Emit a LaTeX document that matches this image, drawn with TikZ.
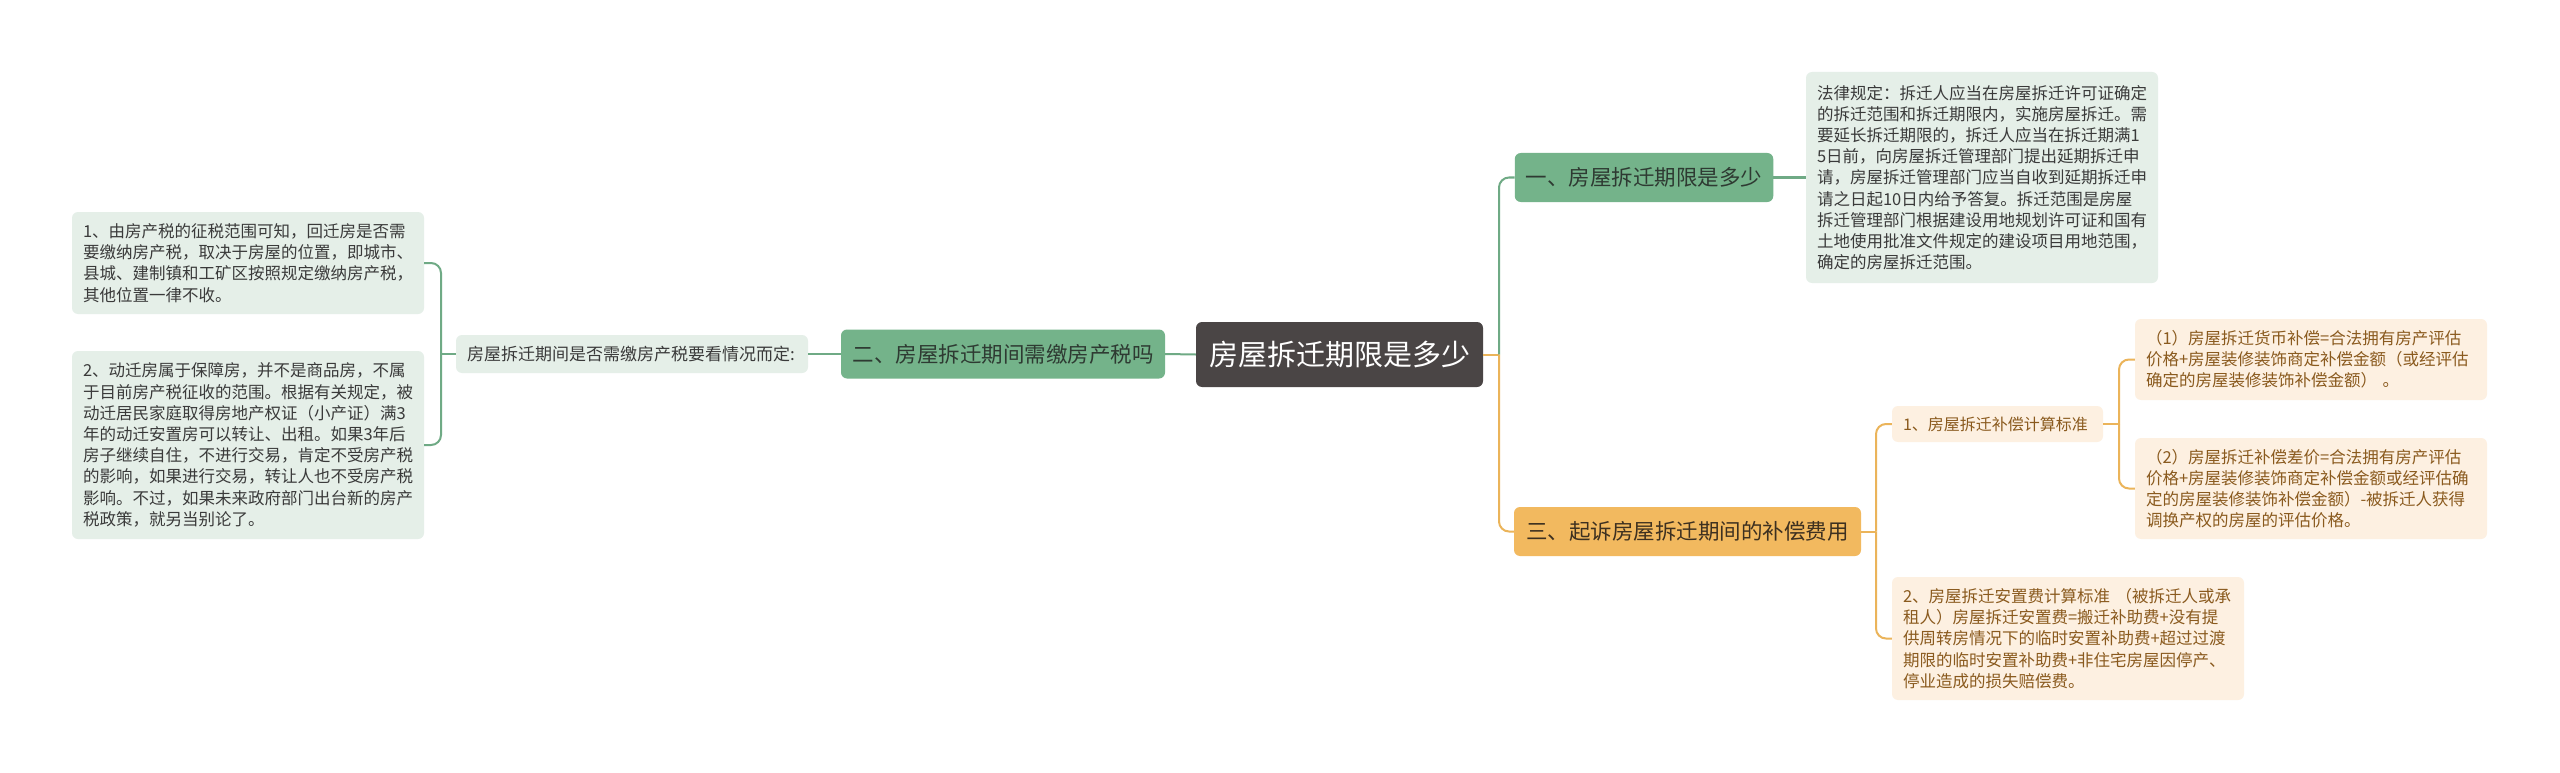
\documentclass[tikz,border=0pt]{standalone}
\usepackage{fontspec}
\setmainfont{Noto Sans CJK SC}
\begin{document}
\begin{tikzpicture}[x=1pt,y=-1pt,
  base/.style={rounded corners=6pt, inner xsep=11pt, inner ysep=0pt, anchor=center},
  rootbox/.style={base, fill=rootc, text=white, font=\fontsize{29}{34}\selectfont, minimum width=287pt, minimum height=65pt},
  gbox/.style={base, fill=gfill, text=gtext, font=\fontsize{21.5}{26}\selectfont, minimum height=49pt},
  obox/.style={base, fill=ofill, text=otext, font=\fontsize{21.5}{26}\selectfont, minimum height=49pt},
  lgbox/.style={base, fill=lgfill, text=lgtext, align=left, font=\fontsize{16.5}{21.2}\selectfont},
  lobox/.style={base, fill=lofill, text=lotext, align=left, font=\fontsize{16.5}{21.2}\selectfont},
  gline/.style={draw=gline, line width=2pt},
  oline/.style={draw=oline, line width=2pt},
]
\definecolor{rootc}{HTML}{4A4545}
\definecolor{gfill}{HTML}{74B38A}
\definecolor{gtext}{HTML}{2E3A32}
\definecolor{ofill}{HTML}{F2B95F}
\definecolor{otext}{HTML}{3D3020}
\definecolor{lgfill}{HTML}{E5EFE8}
\definecolor{lgtext}{HTML}{3A3A3A}
\definecolor{lofill}{HTML}{FDF0E1}
\definecolor{lotext}{HTML}{8A5A1E}
\definecolor{gline}{HTML}{6FAA85}
\definecolor{oline}{HTML}{EBB45A}
\useasboundingbox (0,0) rectangle (2560,773);
\fill[white] (0,0) rectangle (2560,773);

\node[rootbox] (c) at (1339.5,354.5) {房屋拆迁期限是多少};
\node[gbox, minimum width=258pt] (n1) at (1644,177.5) {一、房屋拆迁期限是多少};
\node[lgbox, text width=330pt, minimum height=211pt] (legal) at (1982,177.5) {法律规定：拆迁人应当在房屋拆迁许可证确定\\的拆迁范围和拆迁期限内，实施房屋拆迁。需\\要延长拆迁期限的，拆迁人应当在拆迁期满1\\5日前，向房屋拆迁管理部门提出延期拆迁申\\请，房屋拆迁管理部门应当自收到延期拆迁申\\请之日起10日内给予答复。拆迁范围是房屋\\拆迁管理部门根据建设用地规划许可证和国有\\土地使用批准文件规定的建设项目用地范围，\\确定的房屋拆迁范围。};
\node[obox, minimum width=347pt] (n3) at (1687.5,531.5) {三、起诉房屋拆迁期间的补偿费用};
\node[lobox, text width=189pt, minimum height=36pt, font=\fontsize{16}{20}\selectfont] (s1) at (1997.5,424) {1、房屋拆迁补偿计算标准};
\node[lobox, text width=330pt, minimum height=123pt] (s2) at (2068,638.5) {2、房屋拆迁安置费计算标准 （被拆迁人或承\\租人）房屋拆迁安置费=搬迁补助费+没有提\\供周转房情况下的临时安置补助费+超过过渡\\期限的临时安置补助费+非住宅房屋因停产、\\停业造成的损失赔偿费。};
\node[lobox, text width=330pt, minimum height=81pt] (p1) at (2311,359.5) {（1）房屋拆迁货币补偿=合法拥有房产评估\\价格+房屋装修装饰商定补偿金额（或经评估\\确定的房屋装修装饰补偿金额） 。};
\node[lobox, text width=330pt, minimum height=101pt] (p2) at (2311,488.5) {（2）房屋拆迁补偿差价=合法拥有房产评估\\价格+房屋装修装饰商定补偿金额或经评估确\\定的房屋装修装饰补偿金额）-被拆迁人获得\\调换产权的房屋的评估价格。};
\node[gbox, minimum width=324pt] (n2) at (1003,354) {二、房屋拆迁期间需缴房产税吗};
\node[lgbox, text width=330pt, minimum height=38pt, font=\fontsize{17}{21}\selectfont] (lt) at (632,354) {房屋拆迁期间是否需缴房产税要看情况而定:};
\node[lgbox, text width=330pt, minimum height=102pt] (b1) at (248,263) {1、由房产税的征税范围可知，回迁房是否需\\要缴纳房产税，取决于房屋的位置，即城市、\\县城、建制镇和工矿区按照规定缴纳房产税，\\其他位置一律不收。};
\node[lgbox, text width=330pt, minimum height=188pt] (b2) at (248,445) {2、动迁房属于保障房，并不是商品房，不属\\于目前房产税征收的范围。根据有关规定，被\\动迁居民家庭取得房地产权证（小产证）满3\\年的动迁安置房可以转让、出租。如果3年后\\房子继续自住，不进行交易，肯定不受房产税\\的影响，如果进行交易，转让人也不受房产税\\影响。不过，如果未来政府部门出台新的房产\\税政策，就另当别论了。};

\coordinate (trR) at (1499,354.5);
\coordinate (trL) at (441,354);
\coordinate (tr3) at (1876,531.5);
\coordinate (trs1) at (2119,424);

\draw[oline] (c.east) -- (trR);
\draw[gline, rounded corners=10pt] (trR) |- (n1.west);
\draw[oline, rounded corners=10pt] (trR) |- (n3.west);
\draw[gline] (n1.east) -- (legal.west);
\draw[gline] (c.west) -- (n2.east);
\draw[gline] (n2.west) -- (lt.east);
\draw[gline] (lt.west) -- (trL);
\draw[gline, rounded corners=10pt] (trL) |- (b1.east);
\draw[gline, rounded corners=10pt] (trL) |- (b2.east);
\draw[oline] (n3.east) -- (tr3);
\draw[oline, rounded corners=10pt] (tr3) |- (s1.west);
\draw[oline, rounded corners=10pt] (tr3) |- (s2.west);
\draw[oline] (s1.east) -- (trs1);
\draw[oline, rounded corners=10pt] (trs1) |- (p1.west);
\draw[oline, rounded corners=10pt] (trs1) |- (p2.west);
\end{tikzpicture}
\end{document}
